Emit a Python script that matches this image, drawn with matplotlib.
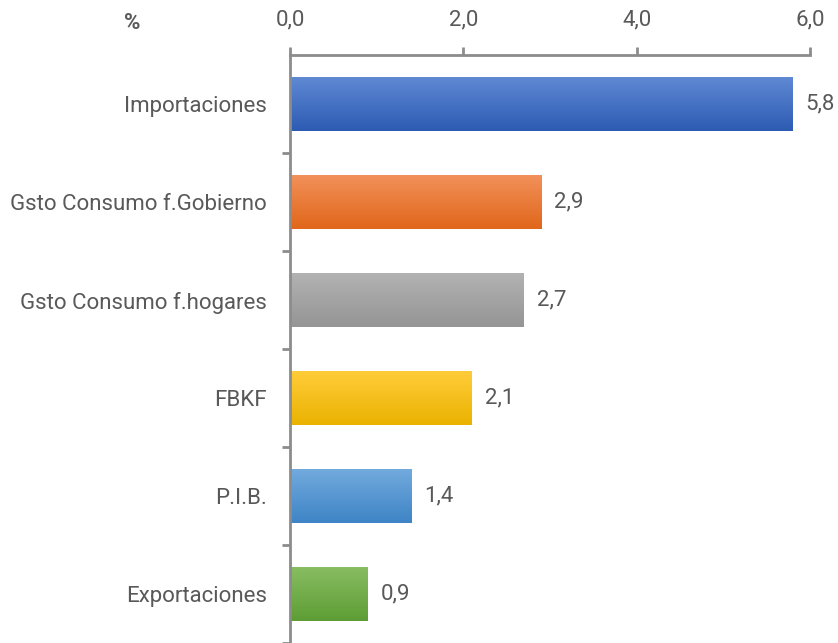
import matplotlib
matplotlib.use("Agg")
import matplotlib.pyplot as plt
import numpy as np
from matplotlib.colors import LinearSegmentedColormap

categories = ["Importaciones", "Gsto Consumo f.Gobierno", "Gsto Consumo f.hogares",
              "FBKF", "P.I.B.", "Exportaciones"]
values = [5.8, 2.9, 2.7, 2.1, 1.4, 0.9]
xticks = [0.0, 2.0, 4.0, 6.0]
xtick_labels = ["0,0", "2,0", "4,0", "6,0"]
# (top colour, bottom colour) for vertical gradients
grad_colors = [("#5F89D3", "#2D5BB3"),
               ("#F2915A", "#E0661A"),
               ("#B2B2B2", "#959595"),
               ("#FFCD3A", "#EAB200"),
               ("#72AADD", "#3E84C6"),
               ("#88BD62", "#5D9D34")]

FONT = ["Roboto", "DejaVu Sans"]
TXT = "#595959"
AXC = "#8C8C8C"
FS = 16

fig = plt.figure(figsize=(8.38, 6.43), dpi=100)
ax = fig.add_axes([290/838, 0.0, (810-290)/838, 1 - 55/643])

y = np.arange(len(categories))
bar_h = 0.545
bars = ax.barh(y, values, height=bar_h, color="none", edgecolor="none", zorder=2)
grad = np.linspace(0, 1, 256).reshape(-1, 1)
for b, (ctop, cbot) in zip(bars, grad_colors):
    x0, y0 = b.get_x(), b.get_y()
    w, h = b.get_width(), b.get_height()
    cmap = LinearSegmentedColormap.from_list("g", [ctop, cbot])
    ax.imshow(grad, cmap=cmap, aspect="auto", extent=(x0, x0 + w, y0 + h, y0),
              origin="upper", zorder=2, interpolation="bilinear")

for yi, v in zip(y, values):
    ax.annotate(f"{v:.1f}".replace(".", ","), xy=(v, yi), xytext=(9, 0),
                textcoords="offset points", va="center", ha="left",
                fontsize=FS, color=TXT, family=FONT)

ax.set_xlim(0, 6.0)
ax.set_ylim(len(categories) - 0.5, -0.5)

ax.xaxis.tick_top()
ax.set_xticks(xticks)
ax.set_xticklabels(xtick_labels, family=FONT, fontsize=FS, color=TXT)
ax.tick_params(axis="x", direction="out", length=6, width=2, color=AXC, pad=12)

ax.set_yticks(y)
ax.set_yticklabels(categories, family=FONT, fontsize=FS, color=TXT)
ax.set_yticks(np.arange(len(categories)) + 0.5, minor=True)
ax.tick_params(axis="y", which="major", length=0, pad=16.5)
ax.tick_params(axis="y", which="minor", direction="out", length=6, width=2, color=AXC)

for s in ["right", "bottom"]:
    ax.spines[s].set_visible(False)
for s in ["top", "left"]:
    ax.spines[s].set_color(AXC)
    ax.spines[s].set_linewidth(2)

fig.text(132/838, 1 - 23/643, "%", ha="center", va="center", fontsize=FS,
         fontweight="bold", color=TXT, family=FONT)

fig.savefig("out.png", dpi=100)
